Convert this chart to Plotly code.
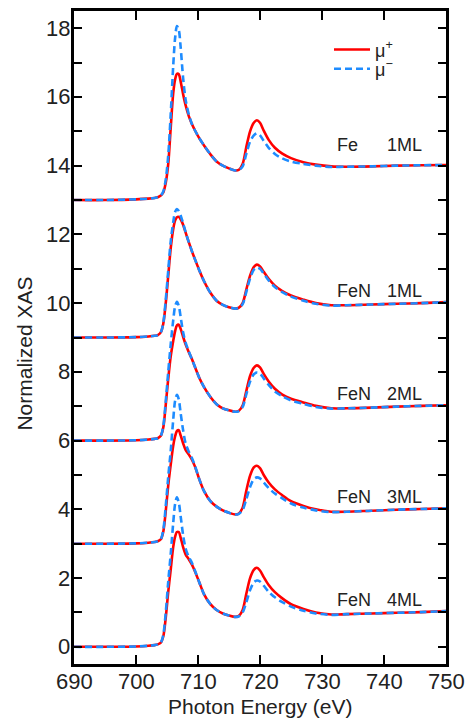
import plotly.graph_objects as go

# Photon energy grid (eV)
energy = [690, 695, 700, 702, 703, 703.5, 704, 704.4, 704.8, 705.2, 705.6, 706.0, 706.3, 706.6,
          706.9, 707.2, 707.6, 708.0, 708.5, 709.0, 709.5, 710.2, 711.0, 712.0, 713.0, 714.0,
          715.0, 716.0, 716.6, 717.2, 717.8, 718.4, 719.0, 719.5, 720.0, 720.6, 721.4, 722.4,
          723.6, 725.0, 727.0, 729.0, 731.5, 734, 738, 742, 746, 750]

# Spectra (relative to each sample's vertical offset)
fe1_plus = [0.0, 0.0, 0.02, 0.04, 0.06, 0.08, 0.13, 0.22, 0.5, 1.05, 2.1, 3.1, 3.5, 3.67,
            3.66, 3.45, 3.08, 2.76, 2.45, 2.22, 2.03, 1.8, 1.58, 1.33, 1.12, 1.0,
            0.92, 0.86, 0.88, 1.05, 1.55, 2.0, 2.25, 2.32, 2.25, 2.02, 1.75, 1.52,
            1.35, 1.22, 1.1, 1.03, 0.98, 0.97, 0.98, 1.0, 1.01, 1.02]
fe1_minus = [0.0, 0.0, 0.02, 0.04, 0.06, 0.08, 0.13, 0.25, 0.6, 1.3, 2.5, 3.9, 4.7, 5.06,
             4.95, 4.45, 3.55, 2.92, 2.5, 2.22, 2.03, 1.8, 1.58, 1.33, 1.12, 1.0,
             0.92, 0.86, 0.87, 0.98, 1.35, 1.7, 1.88, 1.94, 1.88, 1.72, 1.52, 1.34,
             1.21, 1.12, 1.05, 1.0, 0.96, 0.97, 0.98, 1.0, 1.01, 1.02]

fen1_plus = [0.0, 0.0, 0.01, 0.03, 0.05, 0.07, 0.15, 0.4, 1.0, 1.8, 2.6, 3.15, 3.4, 3.5,
             3.51, 3.44, 3.28, 3.06, 2.78, 2.52, 2.28, 1.96, 1.63, 1.3, 1.07, 0.95,
             0.88, 0.84, 0.87, 1.0, 1.4, 1.8, 2.05, 2.12, 2.07, 1.91, 1.71, 1.51,
             1.35, 1.22, 1.1, 1.0, 0.94, 0.94, 0.96, 0.98, 1.0, 1.03]
fen1_minus = [0.0, 0.0, 0.01, 0.03, 0.05, 0.07, 0.15, 0.42, 1.1, 1.95, 2.8, 3.35, 3.65, 3.74,
              3.68, 3.55, 3.32, 3.07, 2.78, 2.52, 2.28, 1.96, 1.63, 1.3, 1.07, 0.95,
              0.88, 0.84, 0.86, 0.97, 1.33, 1.72, 1.97, 2.04, 2.0, 1.86, 1.66, 1.47,
              1.32, 1.19, 1.07, 0.98, 0.93, 0.94, 0.96, 0.98, 1.0, 1.03]

fen2_plus = [0.0, 0.0, 0.01, 0.03, 0.05, 0.07, 0.14, 0.38, 1.05, 1.8, 2.45, 2.9, 3.18, 3.35,
             3.37, 3.25, 3.02, 2.8, 2.58, 2.38, 2.15, 1.83, 1.55, 1.27, 1.06, 0.94,
             0.88, 0.84, 0.87, 1.02, 1.45, 1.88, 2.12, 2.19, 2.13, 1.94, 1.72, 1.51,
             1.34, 1.22, 1.11, 1.01, 0.94, 0.94, 0.96, 0.99, 1.01, 1.03]
fen2_minus = [0.0, 0.0, 0.01, 0.03, 0.05, 0.07, 0.14, 0.42, 1.15, 2.0, 2.8, 3.5, 3.9, 4.04,
              3.92, 3.6, 3.15, 2.85, 2.6, 2.38, 2.15, 1.83, 1.55, 1.27, 1.06, 0.94,
              0.88, 0.84, 0.86, 0.98, 1.35, 1.72, 1.93, 1.98, 1.95, 1.81, 1.62, 1.43,
              1.29, 1.17, 1.07, 0.98, 0.93, 0.94, 0.96, 0.99, 1.01, 1.03]

fen3_plus = [0.0, 0.0, 0.01, 0.03, 0.05, 0.07, 0.13, 0.35, 0.95, 1.7, 2.3, 2.85, 3.12, 3.28,
             3.3, 3.15, 2.92, 2.73, 2.6, 2.45, 2.25, 1.88, 1.52, 1.24, 1.08, 0.97,
             0.9, 0.85, 0.88, 1.05, 1.55, 1.98, 2.22, 2.27, 2.2, 2.0, 1.78, 1.58,
             1.41, 1.24, 1.1, 1.0, 0.93, 0.93, 0.96, 0.99, 1.01, 1.03]
fen3_minus = [0.0, 0.0, 0.01, 0.03, 0.05, 0.07, 0.13, 0.4, 1.1, 1.95, 2.7, 3.6, 4.15, 4.33,
              4.2, 3.8, 3.3, 2.92, 2.68, 2.5, 2.27, 1.88, 1.52, 1.24, 1.08, 0.97,
              0.9, 0.85, 0.87, 0.98, 1.3, 1.65, 1.88, 1.93, 1.9, 1.78, 1.62, 1.46,
              1.32, 1.17, 1.05, 0.97, 0.92, 0.93, 0.96, 0.99, 1.01, 1.03]

fen4_plus = [0.0, 0.0, 0.01, 0.03, 0.05, 0.07, 0.12, 0.3, 0.85, 1.6, 2.25, 2.9, 3.2, 3.34,
             3.34, 3.18, 2.9, 2.69, 2.55, 2.4, 2.2, 1.88, 1.52, 1.24, 1.07, 0.97,
             0.91, 0.87, 0.9, 1.07, 1.55, 2.0, 2.24, 2.3, 2.22, 2.03, 1.8, 1.59,
             1.41, 1.24, 1.1, 1.0, 0.94, 0.95, 0.97, 0.99, 1.01, 1.04]
fen4_minus = [0.0, 0.0, 0.01, 0.03, 0.05, 0.07, 0.12, 0.35, 1.0, 1.9, 2.7, 3.6, 4.15, 4.35,
              4.2, 3.8, 3.25, 2.86, 2.62, 2.45, 2.22, 1.88, 1.52, 1.24, 1.07, 0.97,
              0.91, 0.87, 0.89, 1.0, 1.3, 1.65, 1.87, 1.93, 1.9, 1.78, 1.6, 1.44,
              1.3, 1.17, 1.05, 0.97, 0.93, 0.95, 0.97, 0.99, 1.01, 1.04]

samples = ["Fe", "FeN", "FeN", "FeN", "FeN"]
thickness = ["1ML", "1ML", "2ML", "3ML", "4ML"]
offsets = [13, 9, 6, 3, 0]
plus_series = [fe1_plus, fen1_plus, fen2_plus, fen3_plus, fen4_plus]
minus_series = [fe1_minus, fen1_minus, fen2_minus, fen3_minus, fen4_minus]

x_ticks = [690, 700, 710, 720, 730, 740, 750]
y_ticks = [0, 2, 4, 6, 8, 10, 12, 14, 16, 18]

RED = "#FF0000"
BLUE = "#1E8CFF"
FONT = "Liberation Sans, Arial, Helvetica, sans-serif"
TXT = "#222222"

fig = go.Figure()
for i, (p, off) in enumerate(zip(plus_series, offsets)):
    fig.add_trace(go.Scatter(
        x=energy, y=[v + off for v in p], mode="lines",
        line=dict(color=RED, width=2.6, shape="spline", smoothing=0.8),
        name="μ<sup>+</sup>", legend="legend", showlegend=(i == 0)))
for i, (m, off) in enumerate(zip(minus_series, offsets)):
    fig.add_trace(go.Scatter(
        x=energy, y=[v + off for v in m], mode="lines",
        line=dict(color=BLUE, width=2.6, dash="7px,4px", shape="spline", smoothing=0.8),
        name="μ<sup>−</sup>", legend="legend2", showlegend=(i == 0)))

annotations = []
for s, t, off in zip(samples, thickness, offsets):
    ly = off + (1.6 if s == "Fe" else 1.36)
    annotations.append(dict(x=732.1, y=ly, xref="x", yref="y", text=s, showarrow=False,
                            xanchor="left", yanchor="middle",
                            font=dict(size=18, color=TXT, family=FONT)))
    annotations.append(dict(x=746.5, y=ly, xref="x", yref="y", text=t, showarrow=False,
                            xanchor="right", yanchor="middle",
                            font=dict(size=18, color=TXT, family=FONT)))

# tick labels placed next to the axes
for v in x_ticks:
    annotations.append(dict(x=v, y=-0.0274, xref="x", yref="paper", text=str(v),
                            showarrow=False, xanchor="center", yanchor="middle",
                            font=dict(size=22, color=TXT, family=FONT)))
for v in y_ticks:
    annotations.append(dict(x=-0.0105, y=v, xref="paper", yref="y", text=str(v),
                            showarrow=False, xanchor="right", yanchor="middle",
                            xshift=2,
                            font=dict(size=22, color=TXT, family=FONT)))

annotations.append(dict(x=0.5, y=-0.0655, xref="paper", yref="paper",
                        text="Photon Energy (eV)", showarrow=False,
                        xanchor="center", yanchor="middle",
                        font=dict(size=21, color=TXT, family=FONT)))
annotations.append(dict(x=-0.134, y=0.4756, xref="paper", yref="paper",
                        text="Normalized XAS", showarrow=False, textangle=-90,
                        xanchor="center", yanchor="middle",
                        font=dict(size=21, color=TXT, family=FONT)))

legend_common = dict(xanchor="left", yanchor="middle", bgcolor="rgba(0,0,0,0)",
                     borderwidth=0, itemwidth=36,
                     font=dict(size=18, color=TXT, family=FONT))

fig.update_layout(
    width=472, height=721,
    margin=dict(l=74, r=26, t=8, b=57),
    paper_bgcolor="white", plot_bgcolor="white",
    font=dict(family=FONT, color=TXT),
    showlegend=True,
    legend=dict(x=0.6855, y=0.9405, **legend_common),
    legend2=dict(x=0.6855, y=0.911, **legend_common),
    annotations=annotations,
    xaxis=dict(range=[690, 750], tickvals=x_ticks, showticklabels=False,
               ticks="inside", ticklen=9, tickwidth=2.2, tickcolor="black",
               showline=True, linewidth=2.6, linecolor="black", mirror="ticks",
               showgrid=False, zeroline=False),
    yaxis=dict(range=[-0.5, 18.5], tickvals=y_ticks, showticklabels=False,
               ticks="inside", ticklen=8, tickwidth=2.2, tickcolor="black",
               minor=dict(dtick=1, tick0=1, ticks="inside", ticklen=8, tickwidth=2.2,
                          tickcolor="black"),
               showline=True, linewidth=2.6, linecolor="black", mirror="ticks",
               showgrid=False, zeroline=False),
)

fig.write_html("out.html", config={"displayModeBar": False},
               post_script="document.body.style.margin='0';document.body.style.overflow='hidden';")
